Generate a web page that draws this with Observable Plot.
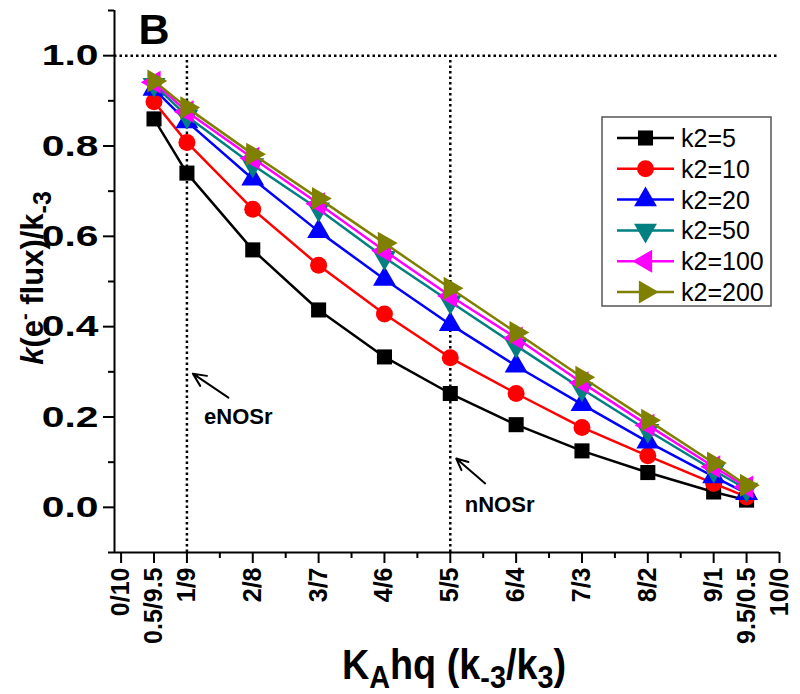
<!DOCTYPE html>
<html><head><meta charset="utf-8">
<script src="https://cdn.jsdelivr.net/npm/d3@7"></script>
<script src="https://cdn.jsdelivr.net/npm/@observablehq/plot@0.6"></script>
<style>
body{margin:0;background:#fff}
#chart{position:relative;width:800px;height:694px}
</style>
</head><body><div id="chart"></div>
<script>
// ---- data ----
const xPositions = [0.5, 1, 2, 3, 4, 5, 6, 7, 8, 9, 9.5];
const seriesLabels = ["k2=5", "k2=10", "k2=20", "k2=50", "k2=100", "k2=200"];
const k2_5   = [0.860, 0.740, 0.570, 0.437, 0.333, 0.252, 0.183, 0.125, 0.077, 0.034, 0.016];
const k2_10  = [0.898, 0.808, 0.660, 0.536, 0.428, 0.331, 0.252, 0.177, 0.114, 0.053, 0.023];
const k2_20  = [0.926, 0.854, 0.727, 0.611, 0.505, 0.405, 0.313, 0.228, 0.145, 0.068, 0.031];
const k2_50  = [0.936, 0.866, 0.758, 0.660, 0.553, 0.455, 0.358, 0.262, 0.170, 0.082, 0.040];
const k2_100 = [0.941, 0.876, 0.773, 0.672, 0.568, 0.468, 0.375, 0.276, 0.182, 0.090, 0.045];
const k2_200 = [0.944, 0.885, 0.782, 0.684, 0.585, 0.485, 0.387, 0.288, 0.193, 0.098, 0.049];
const seriesValues = [k2_5, k2_10, k2_20, k2_50, k2_100, k2_200];

const xTickValues = [0, 0.5, 1, 2, 3, 4, 5, 6, 7, 8, 9, 9.5, 10];
const xTickLabels = ["0/10", "0.5/9.5", "1/9", "2/8", "3/7", "4/6", "5/5", "6/4", "7/3", "8/2", "9/1", "9.5/0.5", "10/0"];
const xMinorTicks = [1.5, 2.5, 3.5, 4.5, 5.5, 6.5, 7.5, 8.5];
const yTickValues = [0, 0.2, 0.4, 0.6, 0.8, 1.0];
const yMinorTicks = [-0.1, 0.1, 0.3, 0.5, 0.7, 0.9, 1.1];
const xDomain = [-0.1, 10];
const yDomain = [-0.1, 1.1];
const refLinesX = [1, 5];
const refLineY = [1.0];
const noteLabels = ["eNOSr", "nNOSr"];
const noteTip = [[1.09, 0.296], [5.09, 0.108]];
const noteTail = [[1.63, 0.243], [5.53, 0.053]];
const noteText = [[1.26, 0.20], [5.22, 0.005]];

// ---- styles ----
const colors = ["#000000", "#ff0000", "#0000ff", "#008080", "#ff00ff", "#808000"];
const symbols = ["square", "circle", "triangle", "triangle", "triangle", "triangle"];
const rotations = [0, 0, 0, 180, -90, 90];
const FONT = "'Liberation Sans', Arial, Helvetica, sans-serif";

const notes = noteLabels.map((label, i) => ({
  label, tipX: noteTip[i][0], tipY: noteTip[i][1],
  tailX: noteTail[i][0], tailY: noteTail[i][1],
  textX: noteText[i][0], textY: noteText[i][1]
}));

const marks = [
  Plot.ruleY(refLineY, {x1: xDomain[0], x2: xDomain[1], stroke: "#000", strokeWidth: 2.5, strokeDasharray: "2.5,3"}),
  Plot.ruleX(refLinesX, {y1: yDomain[0], y2: refLineY[0], stroke: "#000", strokeWidth: 2.5, strokeDasharray: "2.5,3"}),
  Plot.ruleX([xDomain[0]], {stroke: "#000", strokeWidth: 2}),
  Plot.ruleY([yDomain[0]], {stroke: "#000", strokeWidth: 2}),
  Plot.axisY({ticks: yTickValues, tickSize: 11, tickPadding: 5, tickFormat: d3.format(".1f"),
    fontSize: 30, fontWeight: "bold", strokeWidth: 2, label: null}),
  Plot.axisY({ticks: yMinorTicks, tickSize: 6, tickFormat: () => "", strokeWidth: 2, label: null}),
  Plot.axisX({ticks: xTickValues, tickSize: 11, tickPadding: 4, tickRotate: -90,
    tickFormat: d => xTickLabels[xTickValues.indexOf(d)], fontSize: 25, fontWeight: "bold",
    strokeWidth: 2, label: null}),
  Plot.axisX({ticks: xMinorTicks, tickSize: 6, tickFormat: () => "", strokeWidth: 2, label: null}),
];

seriesValues.forEach((vals, s) => {
  const data = xPositions.map((x, i) => ({x, y: vals[i]}));
  marks.push(Plot.line(data, {x: "x", y: "y", stroke: colors[s], strokeWidth: 2.5}));
  marks.push(Plot.dot(data, {x: "x", y: "y", symbol: symbols[s], r: 8.5, fill: colors[s],
    stroke: "none", rotate: rotations[s]}));
});

marks.push(
  Plot.arrow(notes, {x1: "tailX", y1: "tailY", x2: "tipX", y2: "tipY", stroke: "#000",
    strokeWidth: 2, headLength: 13, headAngle: 50}),
  Plot.text(notes, {x: "textX", y: "textY", text: "label", textAnchor: "start",
    fontSize: 22, fontWeight: "bold", fill: "#000"}),
  Plot.text(["B"], {frameAnchor: "top-left", dx: 24, dy: 3, text: d => d, fontSize: 43,
    fontWeight: "bold", fill: "#000", lineAnchor: "top"})
);

const chart = Plot.plot({
  width: 800, height: 694,
  marginLeft: 114, marginRight: 21, marginTop: 10, marginBottom: 142,
  x: {domain: xDomain},
  y: {domain: yDomain},
  style: {fontFamily: FONT, color: "#000", background: "#fff", overflow: "visible"},
  marks
});
document.getElementById("chart").appendChild(chart);

const svg = d3.select(chart);
// widen the y tick labels like the reference (scale about their right-anchored point)
svg.selectAll("text")
  .filter(function() { return /^-?\d\.\d$/.test(this.textContent); })
  .each(function() {
    const t = this.getAttribute("transform") || "";
    this.setAttribute("transform", t + " scale(1.36,1)");
    const x = this.getAttribute("x");
    if (x) this.setAttribute("x", +x / 1.36);
  });

// ---- axis titles ----
const yTitle = svg.append("text")
  .attr("transform", "translate(43,278) rotate(-90)")
  .attr("text-anchor", "middle")
  .attr("font-family", FONT).attr("font-weight", "bold").attr("font-size", 31).attr("fill", "#000");
yTitle.append("tspan").attr("font-style", "italic").text("k");
yTitle.append("tspan").text("(e");
yTitle.append("tspan").attr("dy", -12).attr("font-size", 20).text("-");
yTitle.append("tspan").attr("dy", 12).text(" flux)/k");
yTitle.append("tspan").attr("dy", 8).attr("font-size", 25).text("-3");

const xTitle = svg.append("text")
  .attr("transform", "translate(454,679) scale(0.9,1)")
  .attr("text-anchor", "middle")
  .attr("font-family", FONT).attr("font-weight", "bold").attr("font-size", 42).attr("fill", "#000");
xTitle.append("tspan").text("K");
xTitle.append("tspan").attr("dy", 9).attr("font-size", 32).text("A");
xTitle.append("tspan").attr("dy", -9).text("hq (k");
xTitle.append("tspan").attr("dy", 9).attr("font-size", 32).text("-3");
xTitle.append("tspan").attr("dy", -9).text("/k");
xTitle.append("tspan").attr("dy", 9).attr("font-size", 32).text("3");
xTitle.append("tspan").attr("dy", -9).text(")");

// ---- legend ----
const legend = svg.append("g").attr("transform", "translate(602,117)");
legend.append("rect").attr("width", 169).attr("height", 189)
  .attr("fill", "#fff").attr("stroke", "#555").attr("stroke-width", 1.5);
const symbolTypes = {square: d3.symbolSquare, circle: d3.symbolCircle, triangle: d3.symbolTriangle};
seriesLabels.forEach((label, s) => {
  const cy = 21 + s * 30.8;
  const g = legend.append("g").attr("transform", `translate(0,${cy})`);
  g.append("line").attr("x1", 15).attr("x2", 72).attr("stroke", colors[s]).attr("stroke-width", 2.5);
  g.append("path")
    .attr("d", d3.symbol(symbolTypes[symbols[s]], Math.PI * 8.5 * 8.5)())
    .attr("transform", `translate(43.5,0) rotate(${rotations[s]})`)
    .attr("fill", colors[s]);
  g.append("text").attr("x", 79).attr("dy", "0.36em").attr("text-anchor", "start")
    .attr("font-family", FONT).attr("font-size", 25).attr("fill", "#000").text(label);
});
</script>
</body></html>
